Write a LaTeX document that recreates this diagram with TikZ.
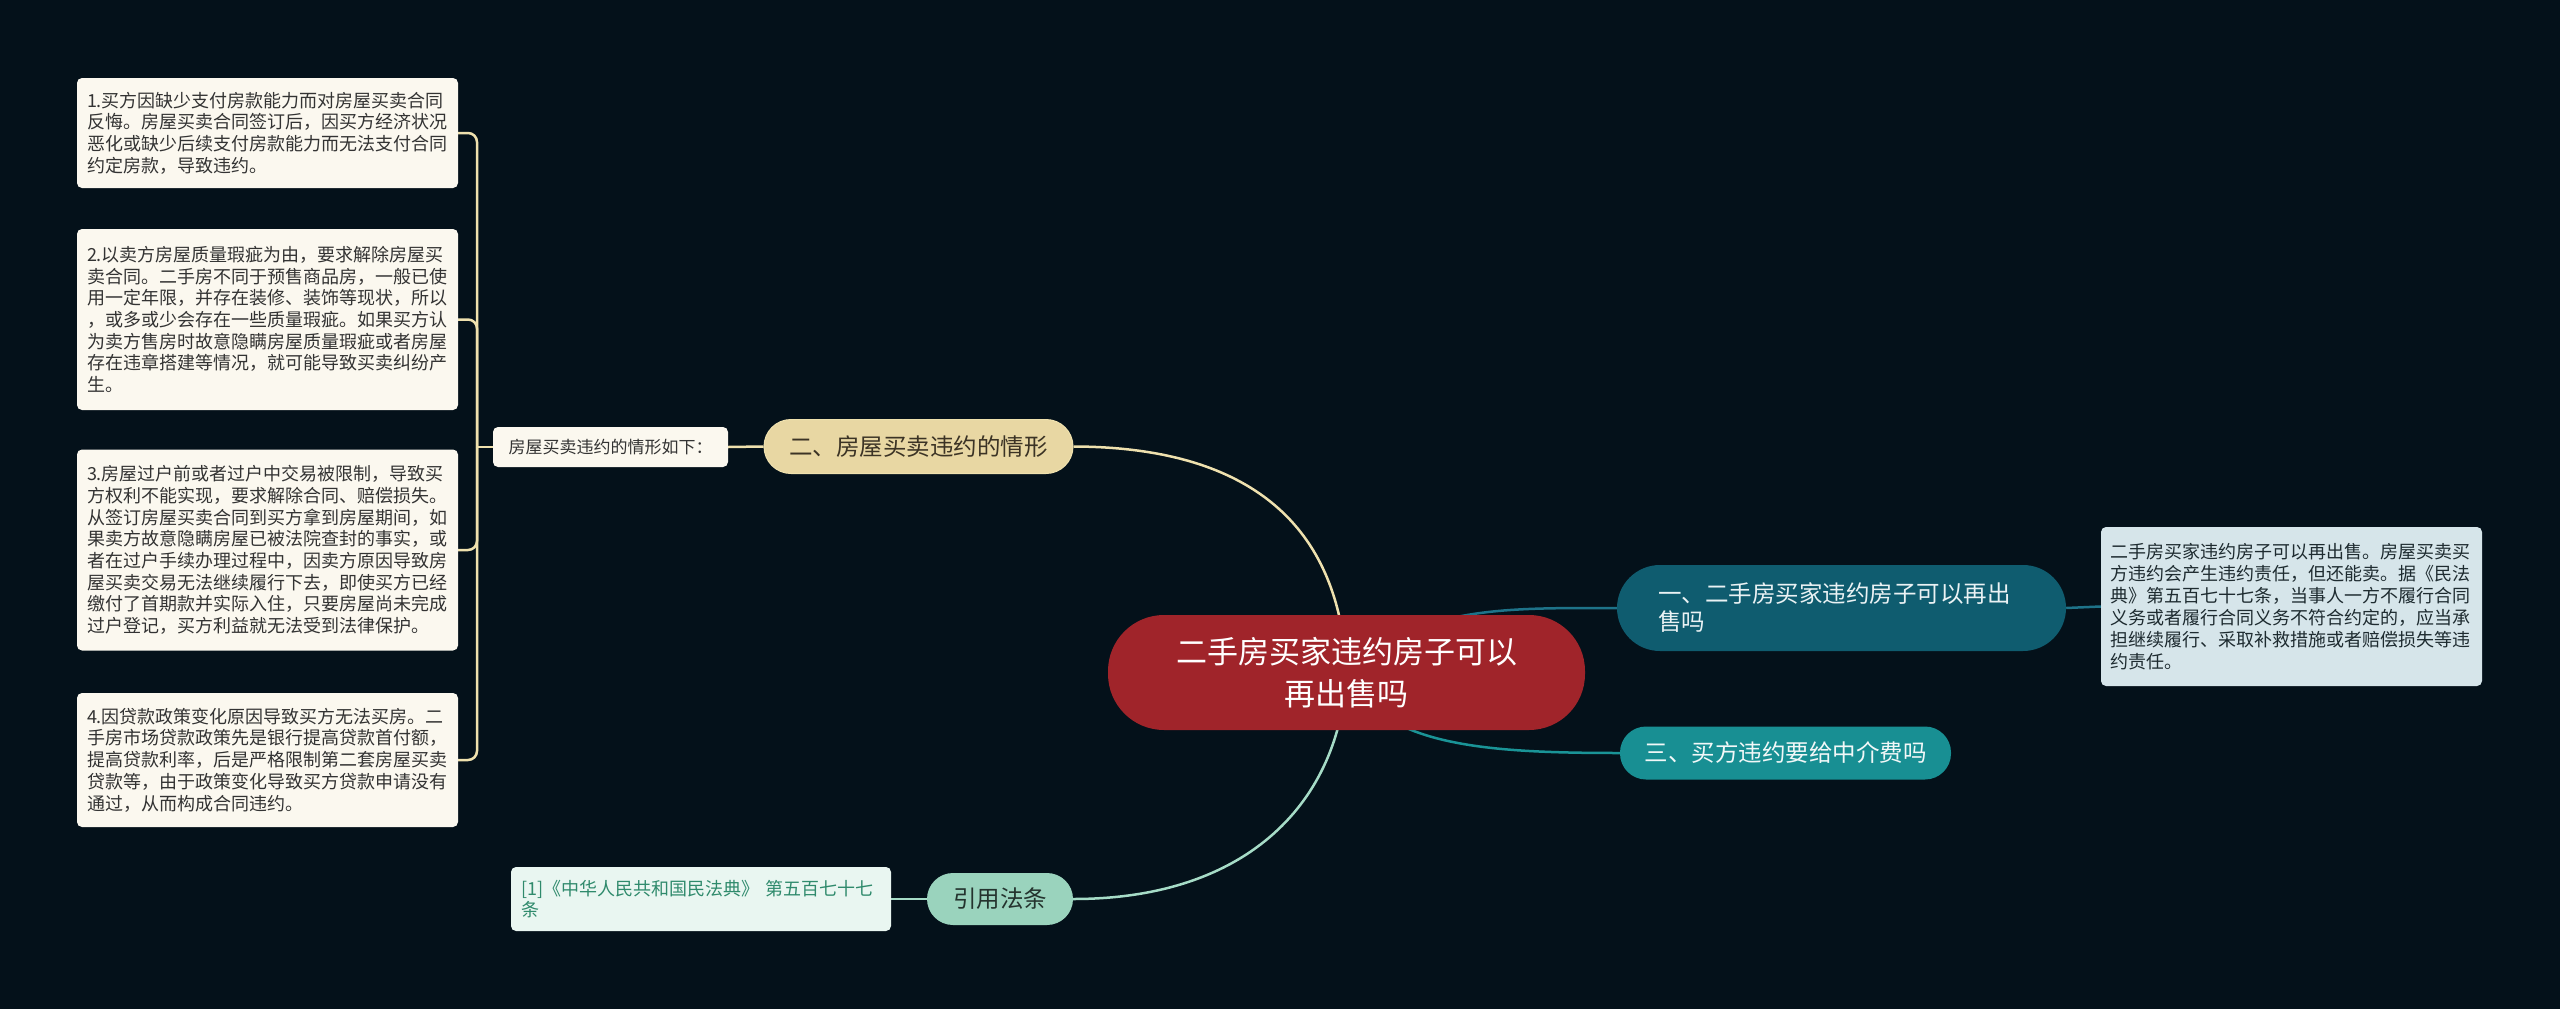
\documentclass[tikz,border=0pt]{standalone}
\usepackage{fontspec}
\setmainfont{Noto Sans CJK SC}
\pgfdeclarelayer{background}
\pgfsetlayers{background,main}
\definecolor{bgc}{HTML}{04111A}
\definecolor{rootc}{HTML}{A0242A}
\definecolor{beige}{HTML}{E8D7A3}
\definecolor{beigeline}{HTML}{EFE1AE}
\definecolor{beigetxt}{HTML}{3B3325}
\definecolor{cream}{HTML}{FBF8EF}
\definecolor{leaftxt}{HTML}{333333}
\definecolor{tealdark}{HTML}{0F5C6F}
\definecolor{tealtxt}{HTML}{EAF2F4}
\definecolor{tealline1}{HTML}{1E7389}
\definecolor{teal3}{HTML}{188F93}
\definecolor{teal3txt}{HTML}{F2F8F8}
\definecolor{tealline3}{HTML}{1A9497}
\definecolor{bluegrey}{HTML}{D6E5EA}
\definecolor{bluegreytxt}{HTML}{1E2B30}
\definecolor{mint}{HTML}{9AD3BD}
\definecolor{minttxtdark}{HTML}{24332E}
\definecolor{mintline}{HTML}{A6DCC7}
\definecolor{mintbox}{HTML}{E9F6F1}
\definecolor{minttxt}{HTML}{2F8A6C}
\begin{document}
\begin{tikzpicture}[x=1pt,y=-1pt,
  rootbox/.style={fill=rootc, rounded corners=56pt, minimum width=477pt, minimum height=115pt, text=white, font=\fontsize{31}{42}\selectfont, align=center, inner sep=0pt},
  pill/.style={rounded corners=#1, inner sep=0pt, font=\fontsize{23.5}{28}\selectfont},
  leafbox/.style={fill=cream, rounded corners=5pt, text=leaftxt, font=\fontsize{18}{21.7}\selectfont, align=left, text width=361pt, minimum width=381pt, inner sep=0pt},
  beigecon/.style={draw=beigeline, line width=2.5pt},
  mintcon/.style={draw=mintline, line width=2.5pt},
]
\useasboundingbox (0,0) rectangle (2560,1009);
% nodes
\node[rootbox] (root) at (1346.5,672.5) {二手房买家违约房子可以\\再出售吗};

\node[pill=27pt, fill=beige, draw=beigeline, line width=1pt, text=beigetxt, minimum width=309pt, minimum height=54pt] (b2) at (918.5,446.5) {二、房屋买卖违约的情形};
\node[fill=cream, rounded corners=5pt, text=leaftxt, font=\fontsize{17}{20}\selectfont, inner sep=0pt, minimum width=235pt, minimum height=40pt] (note) at (610.5,447) {房屋买卖违约的情形如下：};

\node[leafbox, minimum height=110pt] (l1) at (267.5,133) {1.买方因缺少支付房款能力而对房屋买卖合同\\反悔。房屋买卖合同签订后，因买方经济状况\\恶化或缺少后续支付房款能力而无法支付合同\\约定房款，导致违约。};
\node[leafbox, minimum height=181pt] (l2) at (267.5,319.5) {2.以卖方房屋质量瑕疵为由，要求解除房屋买\\卖合同。二手房不同于预售商品房，一般已使\\用一定年限，并存在装修、装饰等现状，所以\\，或多或少会存在一些质量瑕疵。如果买方认\\为卖方售房时故意隐瞒房屋质量瑕疵或者房屋\\存在违章搭建等情况，就可能导致买卖纠纷产\\生。};
\node[leafbox, minimum height=201pt] (l3) at (267.5,550) {3.房屋过户前或者过户中交易被限制，导致买\\方权利不能实现，要求解除合同、赔偿损失。\\从签订房屋买卖合同到买方拿到房屋期间，如\\果卖方故意隐瞒房屋已被法院查封的事实，或\\者在过户手续办理过程中，因卖方原因导致房\\屋买卖交易无法继续履行下去，即使买方已经\\缴付了首期款并实际入住，只要房屋尚未完成\\过户登记，买方利益就无法受到法律保护。};
\node[leafbox, minimum height=134pt] (l4) at (267.5,760) {4.因贷款政策变化原因导致买方无法买房。二\\手房市场贷款政策先是银行提高贷款首付额，\\提高贷款利率，后是严格限制第二套房屋买卖\\贷款等，由于政策变化导致买方贷款申请没有\\通过，从而构成合同违约。};

\node[pill=43pt, fill=tealdark, text=tealtxt, minimum width=449pt, minimum height=86pt, align=left, text width=367pt] (b1) at (1841.5,608) {一、二手房买家违约房子可以再出\\售吗};
\node[fill=bluegrey, rounded corners=5pt, text=bluegreytxt, font=\fontsize{18}{22}\selectfont, align=left, text width=363pt, minimum width=381pt, minimum height=159pt, inner sep=0pt] (r1) at (2291.5,606.5) {二手房买家违约房子可以再出售。房屋买卖买\\方违约会产生违约责任，但还能卖。据《民法\\典》第五百七十七条，当事人一方不履行合同\\义务或者履行合同义务不符合约定的，应当承\\担继续履行、采取补救措施或者赔偿损失等违\\约责任。};

\node[pill=26pt, fill=teal3, text=teal3txt, minimum width=331pt, minimum height=53pt] (b3) at (1785.5,753) {三、买方违约要给中介费吗};

\node[pill=26pt, fill=mint, text=minttxtdark, minimum width=146pt, minimum height=52pt] (b4) at (1000,899) {引用法条};
\node[fill=mintbox, rounded corners=5pt, text=minttxt, font=\fontsize{18}{21.7}\selectfont, align=left, text width=360pt, minimum width=380pt, minimum height=64pt, inner sep=0pt] (ref) at (701,899) {[1]《中华人民共和国民法典》 第五百七十七\\条};

\coordinate (J) at (477,447);

\begin{pgfonlayer}{background}
\fill[bgc] (0,0) rectangle (2560,1009);
% left branch
\draw[beigecon] (b2.east) .. controls (1250,447) and (1340,525) .. (root.center);
\draw[beigecon] (note.east) -- (b2.west);
\draw[beigecon] (note.west) -- (J);
\foreach \n in {l1,l2,l3,l4}{
  \draw[beigecon, rounded corners=9pt] (J) |- (\n.east);
}
% right branches
\draw[draw=tealline1, line width=2.5pt] (root.center) .. controls (1420,606) and (1500,608) .. (b1.west);
\draw[draw=tealline1, line width=2.5pt] (b1.east) -- (r1.west);
\draw[draw=tealline3, line width=2.5pt] (root.center) .. controls (1380,745) and (1480,753) .. (b3.west);
% bottom branch
\draw[mintcon] (b4.east) .. controls (1250,899) and (1340,800) .. (root.center);
\draw[mintcon] (ref.east) -- (b4.west);
\end{pgfonlayer}
\end{tikzpicture}
\end{document}
